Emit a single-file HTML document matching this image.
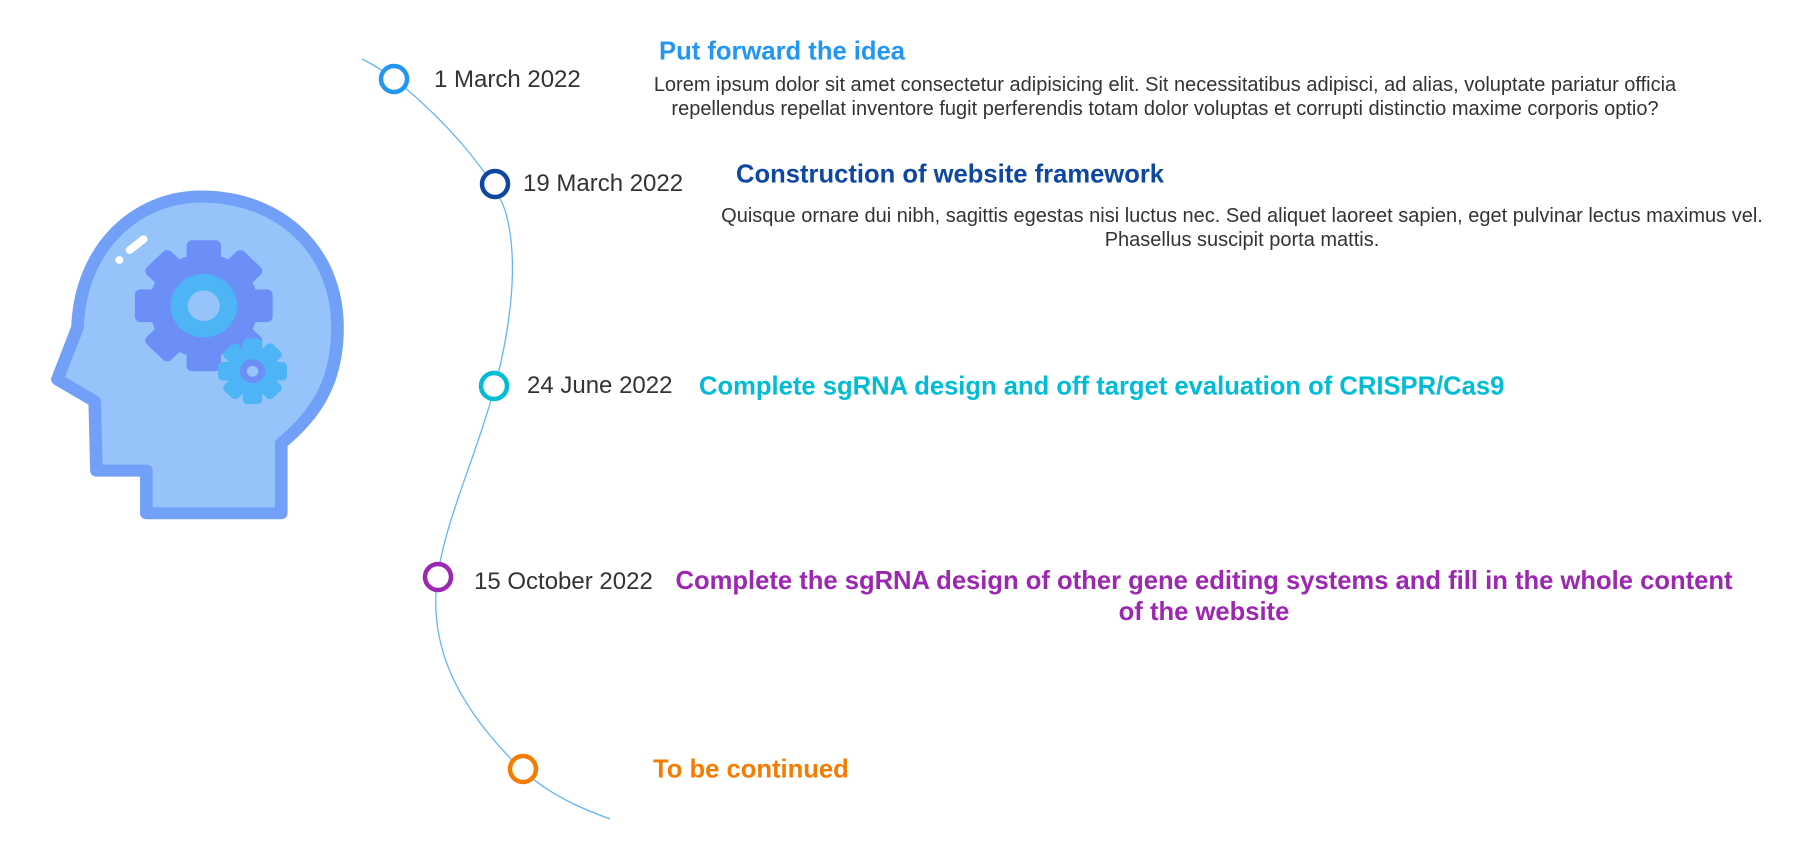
<!DOCTYPE html>
<html><head><meta charset="utf-8"><style>
html,body{margin:0;padding:0;background:#fff;}
body{width:1800px;height:856px;position:relative;overflow:hidden;font-family:"Liberation Sans",sans-serif;}
.t{position:absolute;white-space:nowrap;}
.date{font-size:24px;color:#333;transform:translateY(-50%);}
.title{font-size:25.6px;font-weight:bold;transform:translateY(-50%);}
.p{font-size:20px;color:#333;text-align:center;line-height:24px;}
</style></head><body>
<svg width="1800" height="856" style="position:absolute;left:0;top:0">
  <g transform="scale(0.574 0.546)">
    <path d="M255,940 L255,862 L168,862 L165,735 L100,695 L135,600 C140,450 240,360 350,360 C490,360 588,460 588,600 C588,700 550,760 490,812 L490,940 Z" fill="#96c4fa" stroke="#72a0f8" stroke-width="22" stroke-linejoin="round"/>
    <g fill="#6b8ff7">
      <rect x="325" y="440" width="60" height="240" rx="10"/>
      <rect x="235" y="530" width="240" height="60" rx="10"/>
      <rect x="325" y="440" width="60" height="240" rx="10" transform="rotate(45 355 560)"/>
      <rect x="325" y="440" width="60" height="240" rx="10" transform="rotate(-45 355 560)"/>
      <circle cx="355" cy="560" r="95"/>
    </g>
    <circle cx="355" cy="560" r="58" fill="#4db5f5"/>
    <circle cx="355" cy="560" r="28" fill="#96c4fa"/>
    <g fill="#4db5f5">
      <rect x="423" y="620" width="34" height="120" rx="8"/>
      <rect x="380" y="663" width="120" height="34" rx="8"/>
      <rect x="423" y="620" width="34" height="120" rx="8" transform="rotate(45 440 680)"/>
      <rect x="423" y="620" width="34" height="120" rx="8" transform="rotate(-45 440 680)"/>
      <circle cx="440" cy="680" r="45"/>
    </g>
    <circle cx="440" cy="680" r="22" fill="#6b8ff7"/>
    <circle cx="440" cy="680" r="10" fill="#96c4fa"/>
    <line x1="226" y1="458" x2="250" y2="438" stroke="#fff" stroke-width="14" stroke-linecap="round"/>
    <circle cx="208" cy="476" r="7" fill="#fff"/>
  </g>
  <path d="M362,59 Q380,68 394,79 C440,115 490,170 505,210 C520,260 510,330 495,386 C475,460 445,520 437,580 C430,640 450,700 522,770 C550,795 580,808 610,819" fill="none" stroke="#64b5f6" stroke-width="1.3"/>
  <circle cx="394" cy="79" r="13" fill="#fff" stroke="#2196f3" stroke-width="4.5"/>
  <circle cx="495" cy="184" r="13" fill="#fff" stroke="#0d47a1" stroke-width="4.5"/>
  <circle cx="494" cy="386" r="13" fill="#fff" stroke="#00bcd4" stroke-width="4.5"/>
  <circle cx="438" cy="577" r="13" fill="#fff" stroke="#9c27b0" stroke-width="4.5"/>
  <circle cx="523" cy="769" r="13" fill="#fff" stroke="#f57c00" stroke-width="4.5"/>
</svg>

<div class="t date" style="left:434px;top:80px">1 March 2022</div>
<div class="t date" style="left:523px;top:184px">19 March 2022</div>
<div class="t date" style="left:527px;top:386px">24 June 2022</div>
<div class="t date" style="left:474px;top:582px">15 October 2022</div>

<div class="t title" style="left:659px;top:52px;color:#2196f3">Put forward the idea</div>
<div class="t p" style="left:465px;width:1400px;top:73px">Lorem ipsum dolor sit amet consectetur adipisicing elit. Sit necessitatibus adipisci, ad alias, voluptate pariatur officia<br>repellendus repellat inventore fugit perferendis totam dolor voluptas et corrupti distinctio maxime corporis optio?</div>

<div class="t title" style="left:736px;top:175px;color:#0d47a1">Construction of website framework</div>
<div class="t p" style="left:592px;width:1300px;top:204px">Quisque ornare dui nibh, sagittis egestas nisi luctus nec. Sed aliquet laoreet sapien, eget pulvinar lectus maximus vel.<br>Phasellus suscipit porta mattis.</div>

<div class="t title" style="left:699px;top:387px;color:#00bcd4">Complete sgRNA design and off target evaluation of CRISPR/Cas9</div>

<div class="t title" style="left:644px;width:1120px;top:597px;text-align:center;white-space:normal;line-height:31px;color:#9c27b0">Complete the sgRNA design of other gene editing systems and fill in the whole content<br>of the website</div>

<div class="t title" style="left:653px;top:770px;color:#f57c00">To be continued</div>
</body></html>
